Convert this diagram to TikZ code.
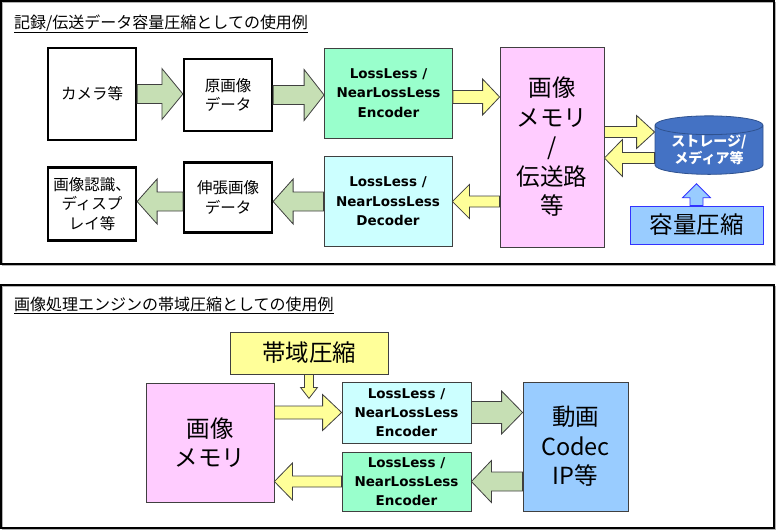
\documentclass[tikz,border=0pt]{standalone}
\usepackage{fontspec}
\setmainfont{Noto Sans CJK JP}
\newfontfamily\verdfont{DejaVu Sans}
\usepackage{xcolor}
\definecolor{cLine}{HTML}{404040}
\definecolor{cArrG}{HTML}{C6DFB4}
\definecolor{cArrY}{HTML}{FFFF99}
\definecolor{cEnc}{HTML}{99FFCC}
\definecolor{cDec}{HTML}{CCFFFF}
\definecolor{cMem}{HTML}{FFCCFF}
\definecolor{cStor}{HTML}{4472C4}
\definecolor{cStorLine}{HTML}{2F528F}
\definecolor{cCap}{HTML}{99CCFF}
\definecolor{cCapLine}{HTML}{3333FF}
\usepackage{tikz}
\usetikzlibrary{positioning,calc,shapes.geometric}
\tikzset{
  node-box/.style={draw=black,line width=2.2pt,minimum width=88pt,align=center,
    inner sep=0pt,font=\fontsize{15.5}{19.5}\selectfont},
  node-codec/.style={draw=cLine,line width=0.8pt,minimum width=128pt,minimum height=90pt,
    align=center,inner sep=0pt,font=\verdfont\bfseries\fontsize{13.5}{19.5}\selectfont},
  node-big/.style={draw=cLine,line width=0.8pt,align=center,inner sep=0pt,
    font=\fontsize{23.5}{29.5}\selectfont},
  node-stor/.style={cylinder,shape border rotate=90,aspect=0.25,draw=cStorLine,
    line width=0.8pt,fill=cStor,text=white,minimum width=108pt,minimum height=52pt,
    inner sep=0pt,align=center,font=\bfseries\fontsize{14}{17}\selectfont},
  panel/.style={draw=black,line width=1.2pt},
  panel-shadow/.style={draw=gray!60,line width=1pt},
  title/.style={anchor=west,inner sep=0pt,font=\fontsize{16}{18}\selectfont},
  arr-green/.style={draw=cLine,line width=0.8pt,fill=cArrG},
  arr-yellow/.style={draw=cLine,line width=0.8pt,fill=cArrY},
  arr-blue/.style={draw=cCapLine,line width=0.8pt,fill=cCap},
}
% style, from, to, shaft half width, head half width, head length
\newcommand\blockarrow[6]{%
  \path (#2) coordinate (ba-s) (#3) coordinate (ba-e);
  \path ($(ba-e)!#6!(ba-s)$) coordinate (ba-m);
  \draw[#1] ($(ba-s)!#4!90:(ba-e)$) -- ($(ba-m)!#4!90:(ba-e)$)
    -- ($(ba-m)!#5!90:(ba-e)$) -- (ba-e) -- ($(ba-m)!#5!-90:(ba-e)$)
    -- ($(ba-m)!#4!-90:(ba-e)$) -- ($(ba-s)!#4!-90:(ba-e)$) -- cycle;
}

\begin{document}
\begin{tikzpicture}[x=1pt,y=-1pt]
  \useasboundingbox (0,0) rectangle (776,531);
  \draw[panel-shadow] (2.5,2.5) rectangle (775.5,265.5);
  \draw[panel] (1,1) rectangle (774,264);
  \draw[panel-shadow] (2.5,286.5) rectangle (775.5,529.5);
  \draw[panel] (1,285) rectangle (774,528);

  % 記録/伝送
  \node[title] (t1) at (14,24) {\underline{記録/伝送データ容量圧縮としての使用例}};
  \node[node-box,minimum height=92pt] (cam) at (92,94) {カメラ等};
  \node[node-box,minimum height=72pt] (raw) at (228,95) {原画像\\データ};
  \node[node-codec,fill=cEnc] (enc) at (388.5,93) {LossLess /\\NearLossLess\\Encoder};
  \node[node-big,fill=cMem,minimum width=104pt,minimum height=200pt] (mem) at (552,147)
    {画像\\メモリ\\/\\伝送路\\等};
  \node[node-stor] (stor) at (709,150) {ストレージ/\\メディア等};
  \node[node-big,draw=cCapLine,fill=cCap,minimum width=133pt,minimum height=38pt] (cap)
    at (696.5,225) {容量圧縮};
  \node[node-box,minimum height=73pt] (disp) at (92,204) {画像認識、\\ディスプ\\レイ等};
  \node[node-box,minimum height=70pt] (exp) at (228,197.5) {伸張画像\\データ};
  \node[node-codec,fill=cDec] (dec) at (388,201.5) {LossLess /\\NearLossLess\\Decoder};

  \coordinate (e-out) at ([yshift=-4pt]enc.east);
  \coordinate (m-out) at ([yshift=15pt]mem.east);
  \coordinate (s-out) at ([yshift=-8pt]stor.west);
  \coordinate (s-in) at ([yshift=-9pt]stor.south);
  \blockarrow{arr-green}{cam.east}{raw.west |- cam.east}{9.5pt}{25.5pt}{21pt}
  \blockarrow{arr-green}{raw.east}{enc.west |- raw.east}{9.5pt}{25.5pt}{20pt}
  \blockarrow{arr-yellow}{e-out}{mem.west |- e-out}{6.5pt}{18pt}{17pt}
  \blockarrow{arr-yellow}{m-out}{stor.west |- m-out}{5.5pt}{16.5pt}{18pt}
  \blockarrow{arr-yellow}{s-out}{mem.east |- s-out}{5.5pt}{18.5pt}{18pt}
  \blockarrow{arr-blue}{cap.north}{cap.north |- s-in}{6.5pt}{14pt}{14pt}
  \blockarrow{arr-yellow}{mem.west |- dec.east}{dec.east}{5.5pt}{17pt}{17pt}
  \blockarrow{arr-green}{dec.west}{exp.east |- dec.west}{9.5pt}{22.5pt}{20pt}
  \blockarrow{arr-green}{exp.west |- dec.west}{disp.east |- dec.west}{9.5pt}{22.5pt}{20pt}

  % 帯域圧縮
  \node[title] (t2) at (14,305) {\underline{画像処理エンジンの帯域圧縮としての使用例}};
  \node[node-big,fill=cArrY,minimum width=158pt,minimum height=42pt] (band) at (309,353) {帯域圧縮};
  \node[node-big,fill=cMem,minimum width=128pt,minimum height=119pt] (mem2) at (210,442.5)
    {画像\\メモリ};
  \node[node-codec,fill=cDec,minimum width=129pt,minimum height=61pt,
    font=\verdfont\bfseries\fontsize{13.5}{19}\selectfont] (enc2) at (406.5,412.5)
    {LossLess /\\NearLossLess\\Encoder};
  \node[node-codec,fill=cEnc,minimum width=129pt,minimum height=59pt,
    font=\verdfont\bfseries\fontsize{13.5}{19}\selectfont] (enc3) at (406.5,481.5)
    {LossLess /\\NearLossLess\\Encoder};
  \node[node-big,fill=cCap,minimum width=105pt,minimum height=129pt] (codec) at (575.5,446.5)
    {動画\\Codec\\IP等};

  \coordinate (b-in) at ([yshift=-24pt]band.south);
  \blockarrow{arr-yellow}{band.south}{b-in}{4.5pt}{8.5pt}{11pt}
  \blockarrow{arr-yellow}{mem2.east |- enc2.west}{enc2.west}{6.5pt}{18pt}{19pt}
  \blockarrow{arr-green}{enc2.east}{codec.west |- enc2.east}{11pt}{21.5pt}{21pt}
  \blockarrow{arr-green}{codec.west |- enc3.east}{enc3.east}{9.5pt}{21pt}{20pt}
  \blockarrow{arr-yellow}{enc3.west}{mem2.east |- enc3.west}{5.5pt}{18.5pt}{18pt}
\end{tikzpicture}
\end{document}
